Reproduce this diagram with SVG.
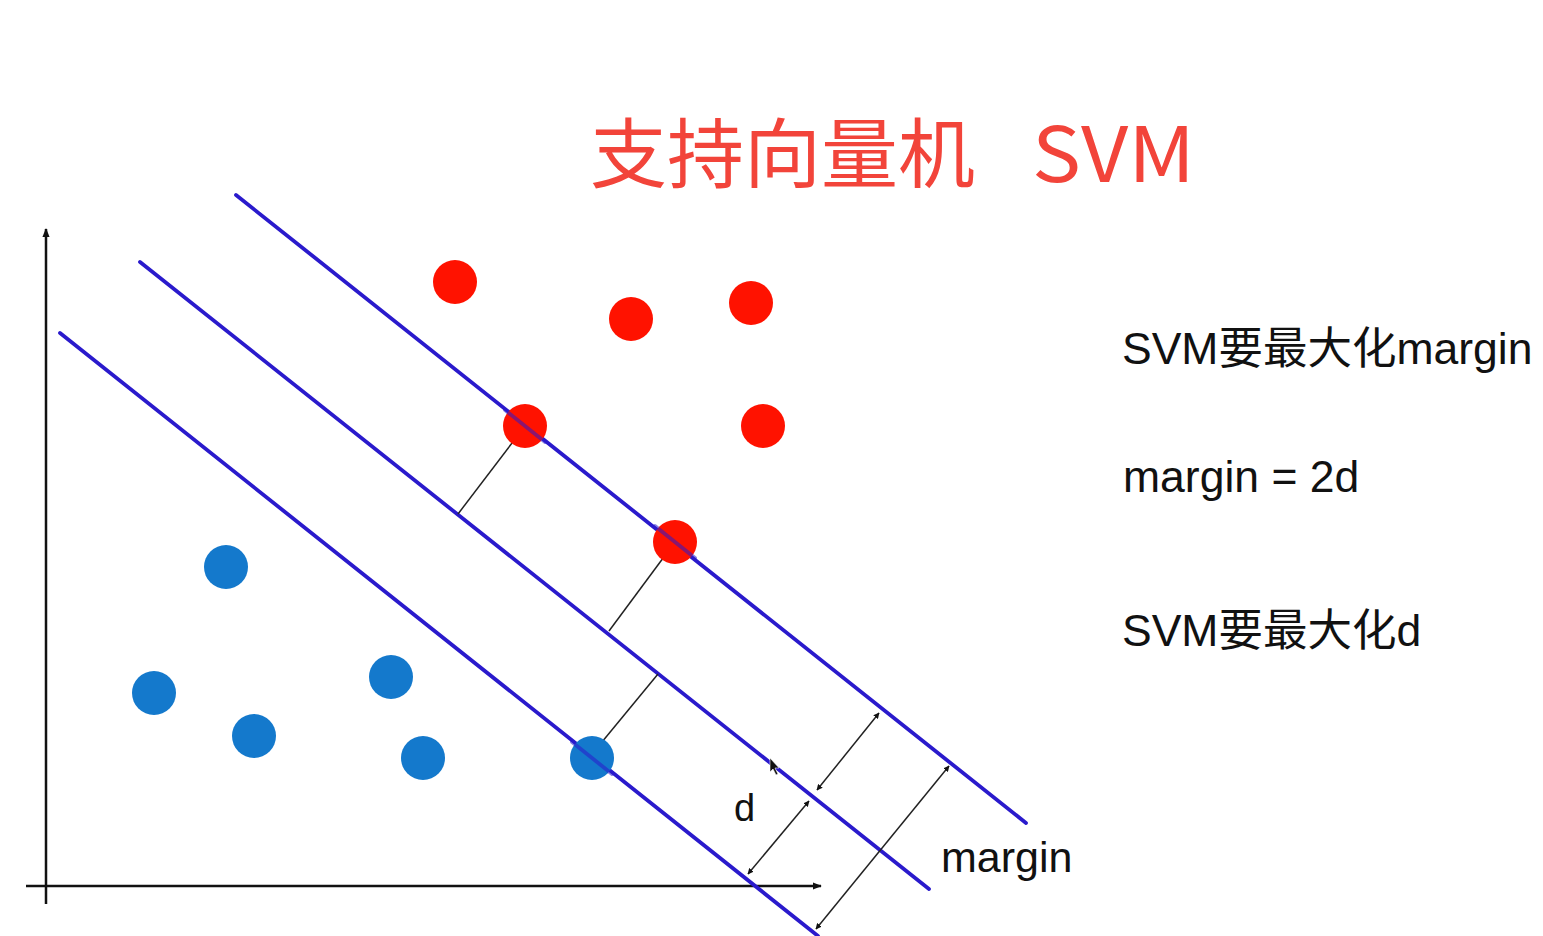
<svg xmlns="http://www.w3.org/2000/svg" width="1543" height="936" viewBox="0 0 1543 936">
  <defs>
    <marker id="ah" viewBox="0 0 10 10" refX="9" refY="5" markerWidth="6" markerHeight="6" markerUnits="userSpaceOnUse" orient="auto-start-reverse">
      <path d="M0,0 L10,5 L0,10 z" fill="#111"/>
    </marker>
    <marker id="axh" viewBox="0 0 10 10" refX="9" refY="5" markerWidth="9" markerHeight="9" markerUnits="userSpaceOnUse" orient="auto">
      <path d="M0,1 L10,5 L0,9 z" fill="#111"/>
    </marker>
  </defs>
  <style>
    .axis { stroke: #111; stroke-width: 2.5; fill: none; }
    .hyper { stroke: #2a1acc; stroke-width: 3.8; stroke-linecap: round; fill: none; }
    .perp { stroke: #222; stroke-width: 1.5; fill: none; }
    .dim { stroke: #222; stroke-width: 1.5; fill: none; marker-start: url(#ah); marker-end: url(#ah); }
    .red { fill: #ff1200; }
    .blue { fill: #1479cc; }
    .title { font-family: "Noto Sans CJK SC", "Noto Sans", sans-serif; font-size: 76px; fill: #f2443a; }
    .note { font-family: "Liberation Sans", "Noto Sans CJK SC", sans-serif; font-size: 44.5px; fill: #111; }
    .lbl { font-family: "Liberation Sans", "Noto Sans CJK SC", sans-serif; fill: #111; }
  </style>
  <rect width="1543" height="936" fill="#ffffff"/>

  <g id="title">
    <text class="title" x="590" y="182" textLength="385" lengthAdjust="spacingAndGlyphs">支持向量机</text>
    <text class="title" x="1032" y="182" textLength="163" lengthAdjust="spacingAndGlyphs">SVM</text>
  </g>

  <g id="axes">
    <line class="axis" x1="46" y1="904" x2="46" y2="229" marker-end="url(#axh)"/>
    <line class="axis" x1="26" y1="886" x2="821" y2="886" marker-end="url(#axh)"/>
  </g>

  <g id="connectors">
    <line class="hyper" x1="236" y1="195" x2="1026" y2="823"/>
    <line class="hyper" x1="140" y1="262" x2="929" y2="889"/>
    <line class="hyper" x1="60" y1="333" x2="818" y2="936"/>
    <line class="perp" x1="525" y1="426" x2="458" y2="514"/>
    <line class="perp" x1="675" y1="542" x2="609" y2="631"/>
    <line class="perp" x1="597" y1="748" x2="658" y2="674"/>
    <line class="dim" x1="748" y1="874" x2="809" y2="801"/>
    <line class="dim" x1="817" y1="790" x2="879" y2="713"/>
    <line class="dim" x1="816" y1="929" x2="949" y2="766"/>
    <path d="M770,758 L770,772 L773,769 L776,775 L778,774 L775,768 L779,768 z" fill="#111" stroke="#fff" stroke-width="0.6"/>
  </g>

  <g id="red-points">
    <circle class="red" cx="455" cy="282" r="22"/>
    <circle class="red" cx="631" cy="319" r="22"/>
    <circle class="red" cx="751" cy="303" r="22"/>
    <circle class="red" cx="763" cy="426" r="22"/>
    <circle class="red" cx="525" cy="426" r="22"/>
    <circle class="red" cx="675" cy="542" r="22"/>
  </g>
  <g id="blue-points">
    <circle class="blue" cx="226" cy="567" r="22"/>
    <circle class="blue" cx="154" cy="693" r="22"/>
    <circle class="blue" cx="254" cy="736" r="22"/>
    <circle class="blue" cx="391" cy="677" r="22"/>
    <circle class="blue" cx="423" cy="758" r="22"/>
    <circle class="blue" cx="592" cy="758" r="22"/>
  </g>
  <g id="support-overlay" opacity="0.55">
    <line class="hyper" x1="505" y1="410" x2="545" y2="442"/>
    <line class="hyper" x1="655" y1="526" x2="695" y2="558"/>
    <line class="hyper" x1="572" y1="742" x2="612" y2="774"/>
  </g>

  <g id="label-d">
    <text class="lbl" x="734" y="821" font-size="38">d</text>
  </g>
  <g id="label-margin">
    <text class="lbl" x="941" y="872" font-size="43">margin</text>
  </g>

  <g id="notes">
    <text class="note" x="1122" y="364">SVM要最大化margin</text>
    <text class="note" x="1123" y="492">margin = 2d</text>
    <text class="note" x="1122" y="646">SVM要最大化d</text>
  </g>
</svg>
